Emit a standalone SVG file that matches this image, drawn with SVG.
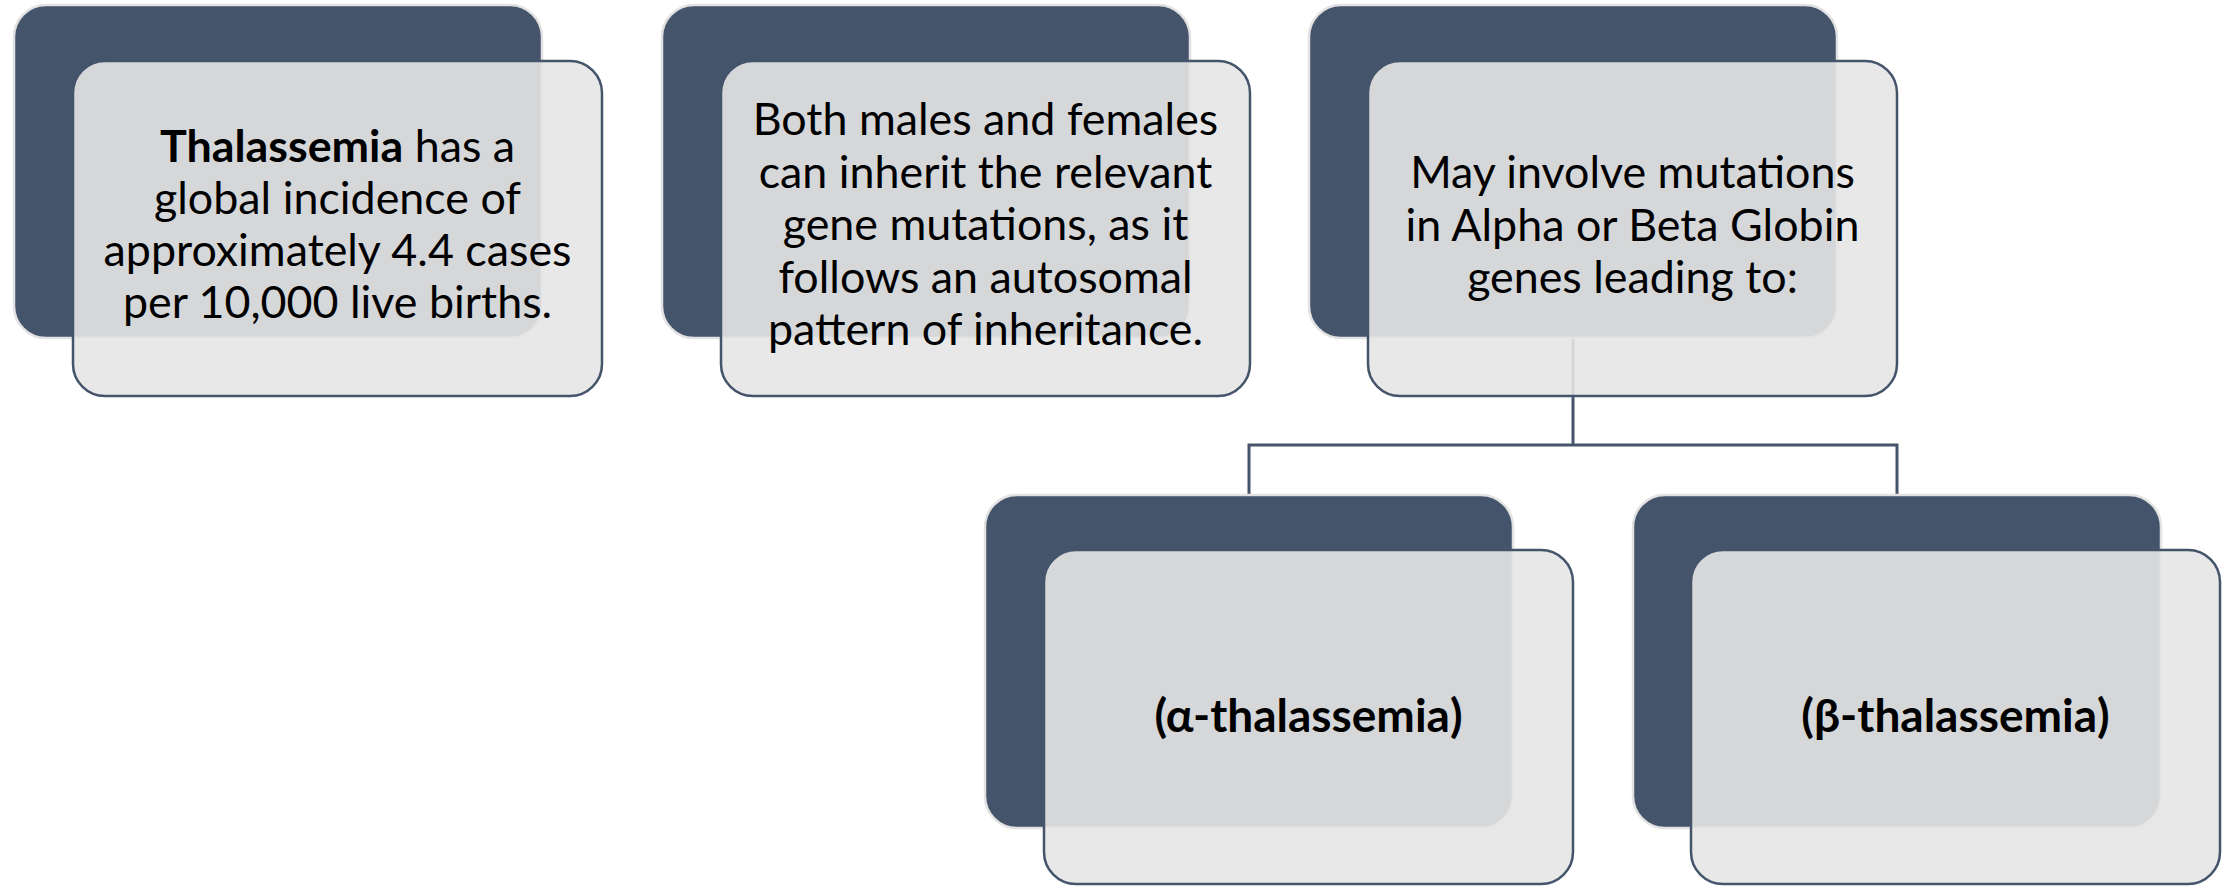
<svg xmlns="http://www.w3.org/2000/svg" width="2236" height="886" viewBox="0 0 2236 886">
<style>
.back{fill:#44546A;stroke:#E2E2E2;stroke-width:2.5}
.front{fill:#E6E6E6;fill-opacity:0.9;stroke:#44546A;stroke-width:2.5}
.t{font-family:Lato,"Liberation Sans",sans-serif;font-size:44.8px;fill:#000;text-anchor:middle}
.b{font-weight:bold}
.big{font-size:46px}
.conn{fill:none;stroke:#44546A;stroke-width:3}
</style>
<rect width="2236" height="886" fill="#FFFFFF"/>
<g id="connectors">
<path class="conn" d="M1573 338 V445"/>
<path class="conn" d="M1249 495 V445 H1897 V495"/>
</g>
<g id="node-incidence">
<rect class="back" x="14" y="5" width="528" height="333" rx="32"/>
<rect class="front" x="73" y="61" width="529" height="335" rx="32"/>
<text class="t" x="337.5" y="161.5"><tspan class="b">Thalassemia</tspan> has a</text>
<text class="t" x="337.5" y="214">global incidence of</text>
<text class="t" x="337.5" y="266">approximately 4.4 cases</text>
<text class="t" x="337.5" y="318">per 10,000 live births.</text>
</g>
<g id="node-inheritance">
<rect class="back" x="662" y="5" width="528" height="333" rx="32"/>
<rect class="front" x="721" y="61" width="529" height="335" rx="32"/>
<text class="t" x="985.5" y="135">Both males and females</text>
<text class="t" x="985.5" y="188">can inherit the relevant</text>
<text class="t" x="985.5" y="240">gene mutations, as it</text>
<text class="t" x="985.5" y="293">follows an autosomal</text>
<text class="t" x="985.5" y="345">pattern of inheritance.</text>
</g>
<g id="node-mutations">
<rect class="back" x="1309" y="5" width="528" height="333" rx="32"/>
<rect class="front" x="1368" y="61" width="529" height="335" rx="32"/>
<text class="t" x="1632.5" y="188">May involve mutations</text>
<text class="t" x="1632.5" y="241">in Alpha or Beta Globin</text>
<text class="t" x="1632.5" y="293">genes leading to:</text>
</g>
<g id="node-alpha">
<rect class="back" x="985" y="495" width="528" height="333" rx="32"/>
<rect class="front" x="1044" y="550" width="529" height="334" rx="32"/>
<text class="t b big" x="1308.5" y="732">(α-thalassemia)</text>
</g>
<g id="node-beta">
<rect class="back" x="1633" y="495" width="528" height="333" rx="32"/>
<rect class="front" x="1691" y="550" width="529" height="334" rx="32"/>
<text class="t b big" x="1955.5" y="732">(β-thalassemia)</text>
</g>
</svg>
